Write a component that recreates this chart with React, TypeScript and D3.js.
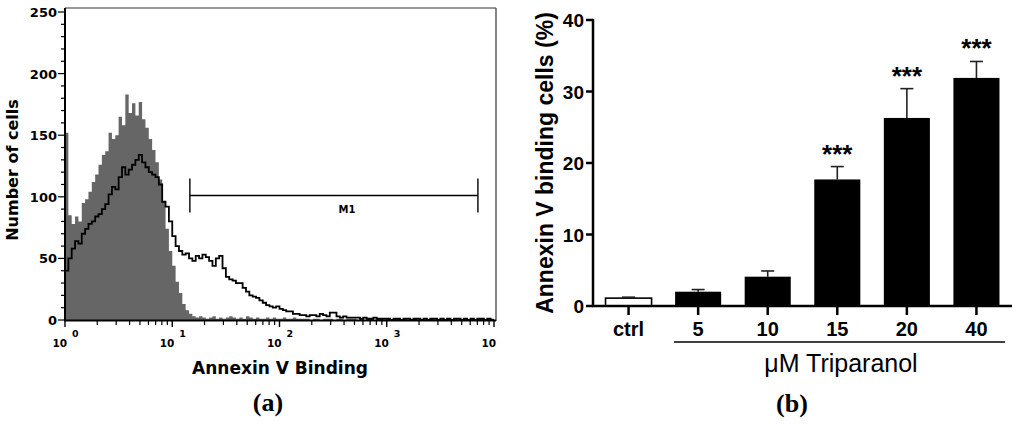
import * as d3 from "d3"

// ---- panel (a): flow cytometry histogram ----
const countTicks = [0, 50, 100, 150, 200, 250]
const decadeExponents = [0, 1, 2, 3, 4]
const binsPerDecade = 32

// untreated (grey filled), 128 log-spaced channels
const controlCounts = [
  152, 85, 78, 84, 80, 95, 98, 104, 112, 118, 126, 134, 137, 152, 147, 150,
  165, 158, 183, 168, 176, 166, 177, 163, 156, 147, 138, 128, 114, 96, 74, 56,
  44, 31, 22, 13, 8, 5, 3, 2, 3, 2, 1, 2, 3, 1, 2, 1,
  2, 3, 2, 1, 2, 1, 3, 2, 1, 2, 1, 1, 2, 1, 2, 1,
  1, 2, 1, 1, 2, 1, 1, 1, 1, 0, 1, 1, 0, 1, 1, 1,
  0, 1, 1, 0, 1, 1, 1, 0, 1, 0, 1, 1, 0, 1, 1, 0,
  1, 0, 1, 1, 0, 1, 0, 1, 1, 0, 1, 0, 1, 1, 0, 1,
  0, 1, 1, 0, 1, 0, 1, 1, 0, 1, 0, 1, 1, 0, 1, 1,
]

// triparanol treated (black line)
const treatedCounts = [
  40, 50, 58, 64, 62, 70, 74, 78, 80, 84, 86, 90, 94, 102, 108, 106,
  116, 124, 118, 122, 126, 130, 134, 128, 124, 120, 118, 116, 110, 96, 92, 80,
  68, 60, 56, 53, 54, 50, 48, 52, 50, 53, 51, 48, 44, 50, 52, 42,
  35, 33, 32, 30, 30, 26, 23, 20, 19, 18, 16, 14, 12, 11, 10, 11,
  9, 8, 7, 7, 5, 5, 4, 4, 3, 4, 4, 3, 5, 4, 3, 6,
  6, 3, 2, 3, 2, 2, 2, 2, 1, 2, 1, 1, 2, 1, 1, 1,
  1, 0, 1, 1, 0, 1, 1, 0, 1, 1, 0, 1, 0, 1, 1, 0,
  1, 0, 1, 0, 1, 1, 0, 1, 0, 1, 0, 1, 1, 0, 1, 0,
]

const gateM1 = [14.6, 7080]
const gateLevel = 101

// ---- panel (b): bar chart ----
const groups = ["ctrl", "5", "10", "15", "20", "40"]
const meanPct = [1.1, 2.0, 4.1, 17.7, 26.3, 31.9]
const errPct = [0.1, 0.3, 0.8, 1.8, 4.1, 2.3]
const stars = ["", "", "", "***", "***", "***"]
const pctTicks = [0, 10, 20, 30, 40]

const sansBold = "'DejaVu Sans', Verdana, sans-serif"
const arial = "'Liberation Sans', Arial, Helvetica, sans-serif"
const serif = "'Liberation Serif', 'Times New Roman', serif"

function Histogram() {
  const x = d3.scaleLog().domain([1, 1e4]).range([65, 494])
  const y = d3.scaleLinear().domain([0, 250]).range([320, 12])

  const toPts = (arr: number[]) => {
    const pts = arr.map((c, i) => [Math.pow(10, i / binsPerDecade), c] as [number, number])
    pts.push([1e4, arr[arr.length - 1]])
    return pts
  }
  const area = d3
    .area<[number, number]>()
    .x((d) => x(d[0]))
    .y0(y(0))
    .y1((d) => y(d[1]))
    .curve(d3.curveStepAfter)
  const line = d3
    .line<[number, number]>()
    .x((d) => x(d[0]))
    .y((d) => y(d[1]))
    .curve(d3.curveStepAfter)

  const minorY = d3.range(0, 251, 10)
  const minorX: number[] = []
  decadeExponents.slice(0, 4).forEach((e) => {
    for (let k = 2; k <= 9; k++) minorX.push(k * Math.pow(10, e))
  })

  return (
    <g>
      <defs>
        <clipPath id="frameA">
          <rect x={65} y={8} width={431} height={312} />
        </clipPath>
      </defs>
      {/* frame */}
      <line x1={65} x2={496} y1={8} y2={8} stroke="#333" strokeWidth={1.2} />
      <line x1={496} x2={496} y1={8} y2={321} stroke="#333" strokeWidth={1.2} />

      <g clipPath="url(#frameA)">
        <path d={area(toPts(controlCounts)) ?? ""} fill="#666" />
        <path d={line(toPts(treatedCounts)) ?? ""} fill="none" stroke="#000" strokeWidth={1.8} />
      </g>

      {/* gate M1 */}
      <g stroke="#000" strokeWidth={1.4}>
        <line x1={x(gateM1[0])} x2={x(gateM1[1])} y1={y(gateLevel)} y2={y(gateLevel)} />
        <line x1={x(gateM1[0])} x2={x(gateM1[0])} y1={y(gateLevel) - 17} y2={y(gateLevel) + 17} />
        <line x1={x(gateM1[1])} x2={x(gateM1[1])} y1={y(gateLevel) - 17} y2={y(gateLevel) + 17} />
      </g>
      <text x={347} y={213} textAnchor="middle" fontFamily={sansBold} fontWeight="bold" fontSize={10}>
        M1
      </text>

      {/* y axis */}
      <line x1={65} x2={65} y1={8} y2={321} stroke="#000" strokeWidth={2} />
      {minorY.map((t) => (
        <line
          key={t}
          x1={t % 50 === 0 ? 58 : 61}
          x2={65}
          y1={y(t)}
          y2={y(t)}
          stroke="#000"
          strokeWidth={1.2}
        />
      ))}
      {countTicks.map((t) => (
        <text
          key={t}
          x={57}
          y={y(t) + 5}
          textAnchor="end"
          fontFamily={sansBold}
          fontWeight="bold"
          fontSize={13}
        >
          {t}
        </text>
      ))}
      <text
        transform={`translate(18,170) rotate(-90)`}
        textAnchor="middle"
        fontFamily={sansBold}
        fontWeight="bold"
        fontSize={16}
      >
        Number of cells
      </text>

      {/* x axis */}
      <line x1={64} x2={496} y1={320.5} y2={320.5} stroke="#000" strokeWidth={2} />
      {minorX.map((t) => (
        <line key={t} x1={x(t)} x2={x(t)} y1={321} y2={325} stroke="#000" strokeWidth={1.2} />
      ))}
      {decadeExponents.map((e) => (
        <g key={e}>
          <line
            x1={x(Math.pow(10, e))}
            x2={x(Math.pow(10, e))}
            y1={321}
            y2={327}
            stroke="#000"
            strokeWidth={1.4}
          />
          <text
            x={x(Math.pow(10, e)) + 2}
            y={347}
            textAnchor="end"
            fontFamily={sansBold}
            fontWeight="bold"
            fontSize={10.5}
          >
            10
          </text>
          {e < 4 && (
            <text
              x={x(Math.pow(10, e)) + 7}
              y={337}
              fontFamily={sansBold}
              fontWeight="bold"
              fontSize={9.5}
            >
              {e}
            </text>
          )}
        </g>
      ))}
      <text x={280} y={374} textAnchor="middle" fontFamily={sansBold} fontWeight="bold" fontSize={17}>
        Annexin V Binding
      </text>
      <text x={268} y={411} textAnchor="middle" fontFamily={serif} fontWeight="bold" fontSize={26}>
        (a)
      </text>
    </g>
  )
}

function BarPanel() {
  const x = d3
    .scaleBand<string>()
    .domain(groups)
    .range([593, 1012])
    .paddingInner(0.338)
    .paddingOuter(0.18)
  const y = d3.scaleLinear().domain([0, 40]).range([306, 20])
  const bw = x.bandwidth()

  return (
    <g>
      {groups.map((g, i) => {
        const cx = (x(g) ?? 0) + bw / 2
        const top = y(meanPct[i] + errPct[i])
        return (
          <g key={g}>
            <line x1={cx} x2={cx} y1={y(meanPct[i])} y2={top} stroke="#222" strokeWidth={1.6} />
            <line x1={cx - 6.5} x2={cx + 6.5} y1={top} y2={top} stroke="#222" strokeWidth={1.6} />
            <rect
              x={x(g)}
              y={y(meanPct[i])}
              width={bw}
              height={y(0) - y(meanPct[i])}
              fill={i === 0 ? "#fff" : "#000"}
              stroke="#000"
              strokeWidth={i === 0 ? 1.6 : 0}
            />
            {i === 0 && (
              <line x1={cx - 6.5} x2={cx + 6.5} y1={top} y2={top} stroke="#222" strokeWidth={1.6} />
            )}
            {stars[i] && (
              <text
                x={cx}
                y={top - 4}
                textAnchor="middle"
                fontFamily={arial}
                fontWeight="bold"
                fontSize={26}
              >
                {stars[i]}
              </text>
            )}
            <line x1={cx} x2={cx} y1={306} y2={315} stroke="#000" strokeWidth={2.5} />
            <text
              x={cx}
              y={336}
              textAnchor="middle"
              fontFamily={arial}
              fontWeight="bold"
              fontSize={20}
            >
              {g}
            </text>
          </g>
        )
      })}

      {/* axes */}
      <line x1={593} x2={593} y1={19} y2={307} stroke="#000" strokeWidth={2.5} />
      <line x1={592} x2={1012} y1={306} y2={306} stroke="#000" strokeWidth={2.5} />
      {pctTicks.map((t) => (
        <g key={t}>
          <line x1={586} x2={593} y1={y(t)} y2={y(t)} stroke="#000" strokeWidth={2.5} />
          <text
            x={584}
            y={y(t) + 7}
            textAnchor="end"
            fontFamily={arial}
            fontWeight="bold"
            fontSize={19}
          >
            {t}
          </text>
        </g>
      ))}
      <text
        transform={`translate(553,163) rotate(-90)`}
        textAnchor="middle"
        fontFamily={arial}
        fontWeight="bold"
        fontSize={23}
      >
        Annexin V binding cells (%)
      </text>

      <line x1={674} x2={1005} y1={342} y2={342} stroke="#000" strokeWidth={1.5} />
      <text x={841} y={372} textAnchor="middle" fontFamily={arial} fontSize={25}>
        μM Triparanol
      </text>
      <text x={792} y={412} textAnchor="middle" fontFamily={serif} fontWeight="bold" fontSize={26}>
        (b)
      </text>
    </g>
  )
}

export default function App() {
  return (
    <svg
      width={1024}
      height={429}
      viewBox="0 0 1024 429"
      style={{ position: "absolute", left: 0, top: 0, background: "#fff", display: "block" }}
    >
      <rect width={1024} height={429} fill="#fff" />
      <Histogram />
      <BarPanel />
    </svg>
  )
}
